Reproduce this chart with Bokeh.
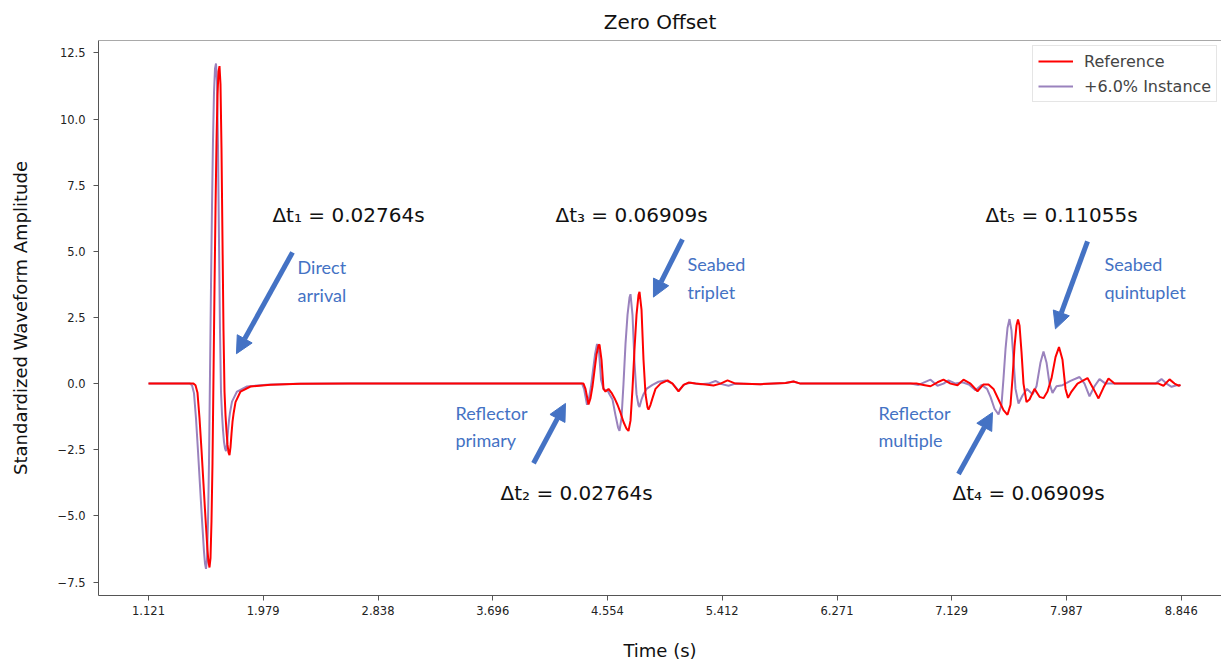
from bokeh.plotting import figure
from bokeh.models import (Range1d, FixedTicker, Arrow, NormalHead, Span, Legend,
                          LegendItem, Label)
from bokeh.embed import file_html
from bokeh.resources import INLINE

# ---- traces: (time [s], standardized amplitude) ----
ref_direct = [
    (1.121, 0.0), (1.4576, 0.0), (1.4726, -0.06), (1.4875, -0.35), (1.5025, -1.3),
    (1.5174, -2.5), (1.5324, -3.8), (1.5474, -5.1), (1.5623, -6.3), (1.5698, -6.75),
    (1.5773, -6.95), (1.5848, -6.6), (1.5922, -5.2), (1.5997, -3.0), (1.6072, 0.3),
    (1.6147, 3.6), (1.6222, 6.6), (1.6296, 9.1), (1.6371, 10.9), (1.6446, 11.8),
    (1.6521, 12.0), (1.6596, 11.3), (1.6670, 8.9), (1.6745, 5.4), (1.6820, 2.0),
    (1.6895, -0.3), (1.6970, -1.2), (1.7044, -1.8), (1.7119, -2.3), (1.7194, -2.6),
    (1.7269, -2.7), (1.7344, -2.4), (1.7418, -1.9), (1.7493, -1.45), (1.7568, -1.15),
    (1.7718, -0.7), (1.8092, -0.3), (1.8840, -0.11), (2.0336, -0.04), (2.2580, -0.01),
    (2.6320, 0.0),
]
ref_primary = [
    (4.3524, 0.0), (4.3748, 0.0), (4.3898, -0.2), (4.4122, -0.79), (4.4272, -0.55),
    (4.4422, -0.1), (4.4571, 0.5), (4.4721, 1.1), (4.4870, 1.45), (4.4945, 1.47),
    (4.5095, 0.9), (4.5244, -0.2), (4.5394, -0.3), (4.5618, -0.2), (4.5843, -0.35),
    (4.6067, -0.55), (4.6291, -0.8), (4.6516, -1.1), (4.6740, -1.45), (4.6964, -1.7),
    (4.7114, -1.79), (4.7264, -1.4), (4.7413, -0.2), (4.7563, 1.3), (4.7713, 2.6),
    (4.7862, 3.35), (4.7937, 3.47), (4.8087, 2.8), (4.8236, 0.9), (4.8386, -0.4),
    (4.8536, -0.9), (4.8610, -0.98), (4.8760, -0.8), (4.8910, -0.55), (4.9134, -0.2),
    (4.9508, 0.0), (5.0032, 0.12), (5.0406, 0.0), (5.0855, -0.29), (5.1229, -0.05),
    (5.1603, 0.04), (5.2127, 0.0), (5.2875, -0.03), (5.3473, -0.07), (5.3997, 0.0),
    (5.4520, 0.12), (5.5119, 0.0), (5.6989, -0.02), (5.8859, 0.02), (5.9457, 0.08),
    (5.9977, 0.0), (6.3720, 0.0),
]
ref_multiple = [
    (6.7460, 0.0), (6.8656, 0.0), (6.9180, -0.05), (6.9704, -0.1), (7.0227, 0.05),
    (7.0676, 0.15), (7.1200, 0.0), (7.1723, -0.06), (7.2172, 0.15), (7.2696, 0.0),
    (7.3219, -0.29), (7.3668, -0.03), (7.4042, -0.03), (7.4416, -0.2), (7.4790, -0.6),
    (7.5164, -1.0), (7.5463, -1.18), (7.5688, -0.8), (7.5837, 0.2), (7.5987, 1.4),
    (7.6136, 2.2), (7.6249, 2.42), (7.6361, 2.2), (7.6510, 1.2), (7.6660, 0.0),
    (7.6884, -0.7), (7.7109, -0.6), (7.7483, -0.2), (7.7857, -0.5), (7.8156, -0.55),
    (7.8455, -0.3), (7.8754, 0.2), (7.9054, 1.0), (7.9315, 1.38), (7.9577, 0.9),
    (7.9802, -0.2), (7.9989, -0.54), (8.0250, -0.3), (8.0699, 0.0), (8.1447, 0.21),
    (8.1896, -0.2), (8.2270, -0.56), (8.2644, -0.15), (8.3018, 0.19), (8.3467, 0.0),
    (8.5412, 0.0), (8.6758, 0.0), (8.7132, -0.08), (8.7581, 0.16), (8.7955, 0.0),
    (8.8254, -0.08), (8.8404, -0.05),
]

inst_direct = [
    (1.121, 0.0), (1.4314, 0.0), (1.4464, -0.06), (1.4613, -0.36), (1.4763, -1.32),
    (1.4912, -2.55), (1.5062, -3.85), (1.5212, -5.15), (1.5361, -6.35), (1.5436, -6.8),
    (1.5511, -7.0), (1.5586, -6.65), (1.5660, -5.25), (1.5735, -3.0), (1.5810, 0.35),
    (1.5885, 3.7), (1.5960, 6.7), (1.6034, 9.2), (1.6109, 11.0), (1.6184, 11.9),
    (1.6259, 12.1), (1.6334, 11.4), (1.6408, 9.0), (1.6483, 5.4), (1.6558, 2.0),
    (1.6632, -0.3), (1.6707, -1.15), (1.6782, -1.75), (1.6857, -2.2), (1.6932, -2.45),
    (1.7007, -2.55), (1.7081, -2.3), (1.7156, -1.8), (1.7231, -1.4), (1.7306, -1.1),
    (1.7456, -0.68), (1.7830, -0.3), (1.8578, -0.11), (2.0074, -0.04), (2.2318, -0.01),
    (2.6058, 0.0),
]
inst_primary = [
    (4.3524, 0.0), (4.3640, 0.0), (4.3790, -0.2), (4.4010, -0.8), (4.4160, -0.55),
    (4.4310, -0.1), (4.4460, 0.5), (4.4610, 1.1), (4.4760, 1.5), (4.4910, 1.2),
    (4.5060, 0.15), (4.5244, -0.2), (4.5394, -0.25), (4.5544, -0.25), (4.5693, -0.4),
    (4.5918, -0.6), (4.6142, -1.2), (4.6329, -1.65), (4.6441, -1.79), (4.6591, -1.3),
    (4.6740, 0.0), (4.6890, 1.5), (4.7040, 2.6), (4.7189, 3.25), (4.7264, 3.38),
    (4.7413, 2.6), (4.7563, 0.8), (4.7713, -0.4), (4.7862, -0.82), (4.7937, -0.88),
    (4.8087, -0.6), (4.8236, -0.4), (4.8460, -0.2), (4.8910, -0.05), (4.9358, 0.07),
    (4.9882, 0.12), (5.0406, 0.0), (5.0855, -0.27), (5.1304, -0.03), (5.1753, 0.03),
    (5.2501, -0.02), (5.3099, 0.0), (5.3623, 0.1), (5.4072, -0.02), (5.4596, -0.08),
    (5.5119, 0.0), (5.6989, -0.02), (5.8859, 0.02), (5.9457, 0.08), (5.9977, 0.0),
    (6.3720, 0.0),
]
inst_multiple = [
    (6.8208, 0.0), (6.8806, -0.05), (6.9704, 0.15), (7.0227, -0.08), (7.0676, 0.0),
    (7.1050, 0.12), (7.1574, 0.0), (7.2097, 0.05), (7.2621, -0.05), (7.3070, -0.25),
    (7.3518, -0.05), (7.3932, -0.2), (7.4192, -0.5), (7.4491, -0.95), (7.4790, -1.17),
    (7.5014, -0.8), (7.5164, 0.2), (7.5314, 1.3), (7.5463, 2.1), (7.5613, 2.44),
    (7.5762, 2.0), (7.5912, 0.9), (7.6062, -0.2), (7.6286, -0.75), (7.6585, -0.45),
    (7.6922, -0.2), (7.7333, -0.4), (7.7632, -0.1), (7.7932, 0.8), (7.8156, 1.21),
    (7.8380, 0.8), (7.8605, 0.0), (7.8829, -0.35), (7.9128, -0.1), (7.9577, -0.06),
    (8.0176, 0.1), (8.0849, 0.25), (8.1223, 0.0), (8.1597, -0.48), (8.1971, -0.1),
    (8.2345, 0.17), (8.2794, 0.0), (8.5412, 0.0), (8.6534, 0.0), (8.6982, 0.17),
    (8.7356, 0.0), (8.7735, -0.12), (8.8179, -0.05), (8.8404, -0.08),
]

x_ticks = [1.121, 1.979, 2.838, 3.696, 4.554, 5.412, 6.271, 7.129, 7.987, 8.846]
y_ticks = [-7.5, -5.0, -2.5, 0.0, 2.5, 5.0, 7.5, 10.0, 12.5]

series_labels = ["Reference", "+6.0% Instance"]
series_colors = ["#ff0000", "#9a82bd"]

# shift annotations: (label, x, y)
delta_labels = [
    ("Δt₁ = 0.02764s", 2.048, 6.39),
    ("Δt₃ = 0.06909s", 4.165, 6.39),
    ("Δt₅ = 0.11055s", 7.382, 6.39),
    ("Δt₂ = 0.02764s", 3.754, -4.14),
    ("Δt₄ = 0.06909s", 7.135, -4.14),
]
# event names: (text, x, y)
event_labels = [
    ("Direct", 2.236, 4.40), ("arrival", 2.236, 3.35),
    ("Seabed", 5.153, 4.51), ("triplet", 5.153, 3.46),
    ("Seabed", 8.272, 4.51), ("quintuplet", 8.272, 3.46),
    ("Reflector", 3.417, -1.13), ("primary", 3.417, -2.14),
    ("Reflector", 6.581, -1.13), ("multiple", 6.581, -2.14),
]
# pointers: (x_start, y_start, x_end, y_end)
event_arrows = [
    (2.198, 4.96, 1.779, 1.13),
    (5.115, 5.45, 4.898, 3.27),
    (8.145, 5.38, 7.905, 2.07),
    (4.001, -3.01, 4.240, -0.75),
    (7.180, -3.42, 7.434, -1.09),
]


def unzip(*segments):
    xs, ys = [], []
    for seg in segments:
        for t, a in seg:
            xs.append(t)
            ys.append(a)
    return xs, ys


ref_t, ref_a = unzip(ref_direct, ref_primary, ref_multiple)
inst_t, inst_a = unzip(inst_direct, inst_primary, inst_multiple)

FONT = "DejaVu Sans"
BLUE = "#4472c4"

p = figure(width=1221, height=663, output_backend="svg", toolbar_location=None,
           x_range=Range1d(0.747, 9.147), y_range=Range1d(-8.01, 12.97),
           min_border_left=98, min_border_right=0, min_border_top=40,
           min_border_bottom=65, title="Zero Offset")
p.outline_line_color = None
p.xgrid.visible = False
p.ygrid.visible = False

p.title.align = "center"
p.title.text_font = FONT
p.title.text_font_size = "20px"
p.title.text_font_style = "normal"
p.title.text_color = "#111111"
p.title.standoff = 14

for ax in (p.xaxis[0], p.yaxis[0]):
    ax.axis_line_color = "#555555"
    ax.major_tick_line_color = "#555555"
    ax.major_tick_out = 5
    ax.major_tick_in = 0
    ax.minor_tick_line_color = None
    ax.major_label_text_font = FONT
    ax.major_label_text_font_size = "11.5px"
    ax.major_label_text_color = "#222222"
    ax.axis_label_text_font = FONT
    ax.axis_label_text_font_size = "18px"
    ax.axis_label_text_font_style = "normal"
    ax.axis_label_text_color = "#111111"

p.xaxis.ticker = FixedTicker(ticks=x_ticks)
p.xaxis.major_label_overrides = {v: f"{v:.3f}" for v in x_ticks}
p.xaxis.axis_label = "Time (s)"
p.xaxis.axis_label_standoff = 22

p.yaxis.ticker = FixedTicker(ticks=y_ticks)
p.yaxis.major_label_overrides = {v: f"{v:.1f}".replace("-", "\u2212") for v in y_ticks}
p.yaxis.major_label_standoff = 8
p.yaxis.axis_label = "Standardized Waveform Amplitude"
p.yaxis.axis_label_standoff = 24

p.add_layout(Span(location=12.97, dimension="width", line_color="#555555", line_width=1))

r_inst = p.line(inst_t, inst_a, line_color=series_colors[1], line_width=2)
r_ref = p.line(ref_t, ref_a, line_color=series_colors[0], line_width=2)

for x0, y0, x1, y1 in event_arrows:
    p.add_layout(Arrow(end=NormalHead(size=17, fill_color=BLUE, line_color=BLUE),
                       x_start=x0, y_start=y0, x_end=x1, y_end=y1,
                       line_color=BLUE, line_width=5))

for txt, x, y in delta_labels:
    p.add_layout(Label(x=x, y=y, text=txt, text_font=FONT, text_font_size="20px",
                       text_color="#111111", text_baseline="middle", text_align="left"))

for txt, x, y in event_labels:
    p.add_layout(Label(x=x, y=y, text=txt, text_font="Lato", text_font_size="18px",
                       text_color=BLUE, text_baseline="middle", text_align="left"))

# legend anchored by its lower-left corner, in pixels from the frame's lower-left
legend = Legend(items=[LegendItem(label=series_labels[0], renderers=[r_ref]),
                       LegendItem(label=series_labels[1], renderers=[r_inst])],
                location=(934, 493))
legend.label_text_font = FONT
legend.label_text_font_size = "16px"
legend.glyph_width = 35
legend.glyph_height = 20
legend.label_standoff = 11
legend.padding = 5
legend.spacing = 5
legend.margin = 0
legend.border_line_color = "#cccccc"
legend.background_fill_alpha = 0.85
p.add_layout(legend)

open("out.html", "w").write(file_html(p, INLINE))
